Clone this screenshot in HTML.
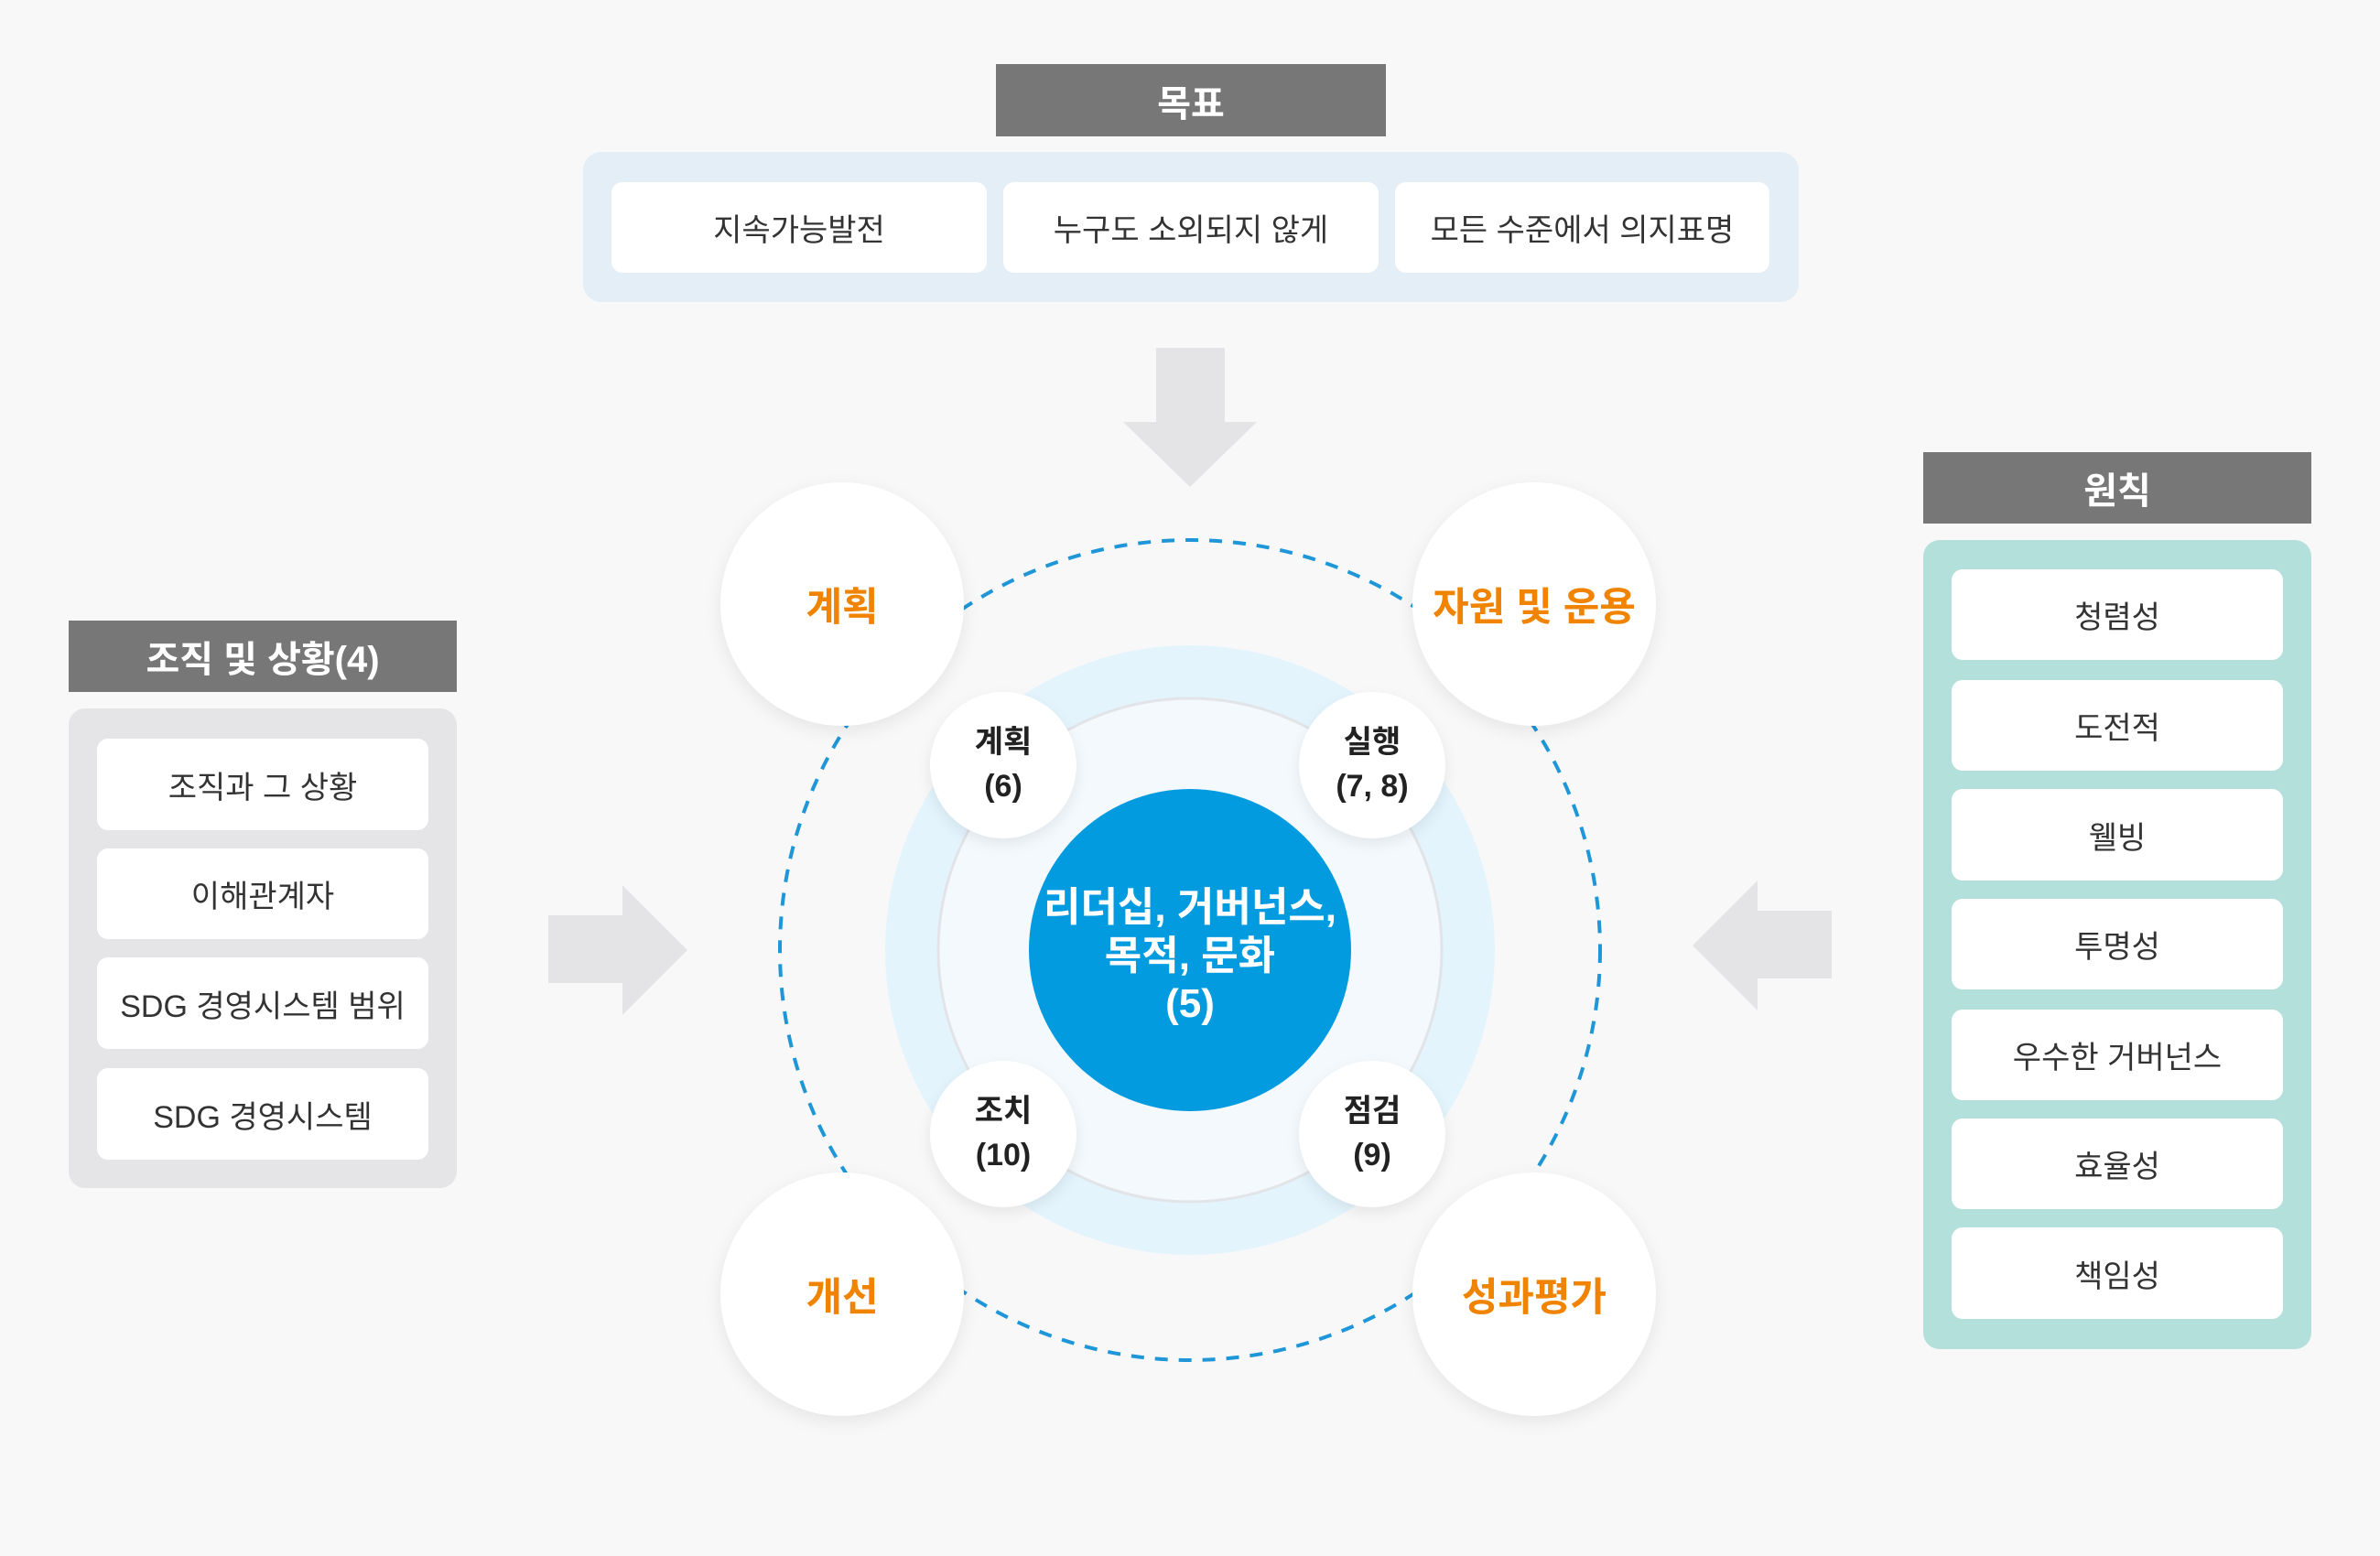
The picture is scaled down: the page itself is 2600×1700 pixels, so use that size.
<!DOCTYPE html>
<html><head><meta charset="utf-8"><style>
body{margin:0;width:2600px;height:1700px;background:#f8f8f8;position:relative;overflow:hidden;font-family:"Liberation Sans","Noto Sans CJK KR",sans-serif;}
.a{position:absolute;box-sizing:border-box;display:flex;align-items:center;justify-content:center;text-align:center;}
.hd{background:#777;color:#fff;font-size:40px;font-weight:bold;}
.bx{background:#fff;border-radius:12px;font-size:34px;color:#333;}
.big{border-radius:50%;background:#fff;box-shadow:0 6px 20px rgba(0,0,0,0.08);color:#f08300;font-size:43px;font-weight:bold;}
.sm{border-radius:50%;background:#fff;box-shadow:0 6px 16px rgba(0,0,0,0.08);color:#222;font-size:34px;font-weight:bold;line-height:1.4;}
</style></head><body>
<div class="a hd" style="left:1088px;top:70px;width:426px;height:79px">목표</div>
<div class="a" style="left:637px;top:166px;width:1328px;height:164px;background:#e3eef6;border-radius:20px"></div>
<div class="a bx" style="left:668px;top:199px;width:410px;height:99px">지속가능발전</div>
<div class="a bx" style="left:1096px;top:199px;width:410px;height:99px">누구도 소외되지 않게</div>
<div class="a bx" style="left:1524px;top:199px;width:409px;height:99px">모든 수준에서 의지표명</div>

<div class="a hd" style="left:75px;top:678px;width:424px;height:78px">조직 및 상황(4)</div>
<div class="a" style="left:75px;top:774px;width:424px;height:524px;background:#e5e5e7;border-radius:18px"></div>
<div class="a bx" style="left:106px;top:807px;width:362px;height:100px">조직과 그 상황</div>
<div class="a bx" style="left:106px;top:927px;width:362px;height:99px">이해관계자</div>
<div class="a bx" style="left:106px;top:1046px;width:362px;height:100px">SDG 경영시스템 범위</div>
<div class="a bx" style="left:106px;top:1167px;width:362px;height:100px">SDG 경영시스템</div>

<div class="a hd" style="left:2101px;top:494px;width:424px;height:78px">원칙</div>
<div class="a" style="left:2101px;top:590px;width:424px;height:884px;background:#b3e0da;border-radius:18px"></div>
<div class="a bx" style="left:2132px;top:622px;width:362px;height:99px">청렴성</div>
<div class="a bx" style="left:2132px;top:743px;width:362px;height:99px">도전적</div>
<div class="a bx" style="left:2132px;top:862px;width:362px;height:100px">웰빙</div>
<div class="a bx" style="left:2132px;top:982px;width:362px;height:99px">투명성</div>
<div class="a bx" style="left:2132px;top:1103px;width:362px;height:99px">우수한 거버넌스</div>
<div class="a bx" style="left:2132px;top:1222px;width:362px;height:99px">효율성</div>
<div class="a bx" style="left:2132px;top:1341px;width:362px;height:100px">책임성</div>

<svg style="position:absolute;left:0;top:0" width="2600" height="1700">
<polygon fill="#e4e4e6" points="1263,380 1338,380 1338,461 1373,461 1300,532 1227,461 1263,461"/>
<polygon fill="#e4e4e6" points="599,1000 680,1000 680,967 751,1038 680,1109 680,1074 599,1074"/>
<polygon fill="#e4e4e6" points="2001,995 1920,995 1920,962 1849,1033 1920,1104 1920,1069 2001,1069"/>
<circle cx="1300" cy="1038" r="333" fill="#e3f4fd"/>
<circle cx="1300" cy="1038" r="275" fill="#f3f9fd" stroke="#e2e4e8" stroke-width="3"/>
<circle cx="1300" cy="1038" r="176" fill="#039be0"/>
<circle cx="1300" cy="1038" r="448" fill="none" stroke="#1e96d8" stroke-width="4" stroke-dasharray="14,12"/>
</svg>
<div class="a" style="left:1124px;top:960px;width:352px;height:170px;color:#fff;font-size:44px;font-weight:bold;line-height:1.2">리더십, 거버넌스,<br>목적, 문화<br>(5)</div>

<div class="a big" style="left:787px;top:527px;width:266px;height:266px">계획</div>
<div class="a big" style="left:1543px;top:527px;width:266px;height:266px">자원 및 운용</div>
<div class="a big" style="left:787px;top:1281px;width:266px;height:266px">개선</div>
<div class="a big" style="left:1543px;top:1281px;width:266px;height:266px">성과평가</div>

<div class="a sm" style="left:1016px;top:756px;width:160px;height:160px">계획<br>(6)</div>
<div class="a sm" style="left:1419px;top:756px;width:160px;height:160px">실행<br>(7, 8)</div>
<div class="a sm" style="left:1016px;top:1159px;width:160px;height:160px">조치<br>(10)</div>
<div class="a sm" style="left:1419px;top:1159px;width:160px;height:160px">점검<br>(9)</div>
</body></html>
